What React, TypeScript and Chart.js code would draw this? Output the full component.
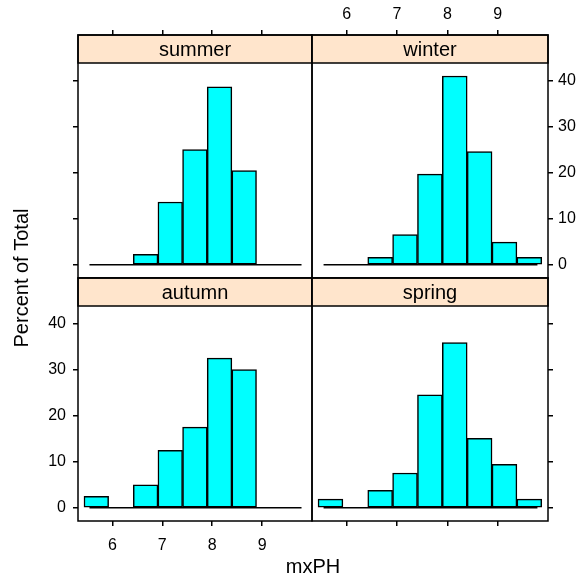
import React, { useEffect, useRef } from "react";
import { Chart, registerables } from "chart.js";

Chart.register(...registerables);

// ---------- data ----------
const breaks = [5.43, 5.924, 6.418, 6.912, 7.406, 7.9, 8.394, 8.888, 9.382, 9.876];
const summerPct = [0, 0, 2.27, 13.64, 25.0, 38.64, 20.45, 0, 0];
const winterPct = [0, 0, 1.64, 6.56, 19.67, 40.98, 24.59, 4.92, 1.64];
const autumnPct = [2.5, 0, 5.0, 12.5, 17.5, 32.5, 30.0, 0, 0];
const springPct = [1.89, 0, 3.77, 7.55, 24.53, 35.85, 15.09, 9.43, 1.89];
const xTicks = [6, 7, 8, 9];
const yTicks = [0, 10, 20, 30, 40];
const xLimits = [5.31, 10.0];
const yLimits = [-2.86, 43.8];
const baselineX = [5.54, 9.79];
const xLabel = "mxPH";
const yLabel = "Percent of Total";

// ---------- layout ----------
const W = 577;
const H = 578;
const X0 = 78;
const XM = 312;
const X1 = 548;
const Y0 = 35;
const STRIP = 28;
const PLOT = 215;
const FONT = "'Liberation Sans', Arial, Helvetica, sans-serif";
const LW = 1.5;

type Panel = { name: string; values: number[]; col: number; row: number };
const panels: Panel[] = [
  { name: "summer", values: summerPct, col: 0, row: 0 },
  { name: "winter", values: winterPct, col: 1, row: 0 },
  { name: "autumn", values: autumnPct, col: 0, row: 1 },
  { name: "spring", values: springPct, col: 1, row: 1 },
];

const decorPlugin = {
  id: "decor",
  afterDatasetsDraw(chart: any, _args: any, opts: any) {
    const { ctx, chartArea: a } = chart;
    const yScale = chart.scales.y;
    const stripBottom = yScale.getPixelForValue(yLimits[1]);
    ctx.save();
    ctx.fillStyle = "#FFE5CC";
    ctx.fillRect(a.left, a.top, a.right - a.left, stripBottom - a.top);
    ctx.strokeStyle = "#000";
    ctx.lineWidth = LW;
    ctx.strokeRect(a.left, a.top, a.right - a.left, stripBottom - a.top);
    ctx.strokeRect(a.left, a.top, a.right - a.left, a.bottom - a.top);
    ctx.fillStyle = "#000";
    ctx.font = `20px ${FONT}`;
    ctx.textAlign = "center";
    ctx.textBaseline = "middle";
    ctx.fillText(opts.label, (a.left + a.right) / 2, (a.top + stripBottom) / 2 + 1);
    if (opts.titles) {
      ctx.fillText(xLabel, (X0 + X1) / 2, 567);
      ctx.save();
      ctx.translate(22, Y0 + (2 * (STRIP + PLOT)) / 2);
      ctx.rotate(-Math.PI / 2);
      ctx.fillText(yLabel, 0, 0);
      ctx.restore();
    }
    ctx.restore();
  },
};

function makeConfig(p: Panel): any {
  const left = p.col ? XM : X0;
  const right = p.col ? X1 : XM;
  const top = Y0 + p.row * (STRIP + PLOT);
  const bottom = top + STRIP + PLOT;
  const showLabels = (p.row === 0 && p.col === 1) || (p.row === 1 && p.col === 0);
  const xPos = p.row === 0 ? "top" : "bottom";
  const yPos = p.col === 0 ? "left" : "right";
  const yMaxExt = yLimits[1] + ((yLimits[1] - yLimits[0]) * STRIP) / PLOT;

  const barData = p.values.map((v, i) => ({ x: (breaks[i] + breaks[i + 1]) / 2, y: v }));

  const padding = {
    left: p.col === 0 ? 0 : left,
    right: p.col === 0 ? W - right : 0,
    top: p.row === 0 ? 0 : top,
    bottom: p.row === 0 ? H - bottom : 0,
  };

  const tickFont = { family: FONT, size: 16 };

  return {
    type: "bar",
    data: {
      datasets: [
        {
          type: "bar",
          data: barData,
          backgroundColor: "#00FFFF",
          borderColor: "#000",
          borderWidth: LW,
          borderSkipped: false,
          barPercentage: 1,
          categoryPercentage: 1,
          order: 0,
        },
        {
          type: "line",
          data: baselineX.map((x) => ({ x, y: 0 })),
          borderColor: "#000",
          borderWidth: LW,
          pointRadius: 0,
          fill: false,
          order: 1,
        },
      ],
    },
    options: {
      responsive: false,
      animation: false,
      devicePixelRatio: 1,
      events: [],
      layout: { padding },
      plugins: {
        legend: { display: false },
        tooltip: { enabled: false },
        decor: { label: p.name, titles: p.row === 1 && p.col === 0 },
      },
      scales: {
        x: {
          type: "linear",
          position: xPos,
          min: xLimits[0],
          max: xLimits[1],
          offset: false,
          afterBuildTicks: (axis: any) => {
            axis.ticks = xTicks.map((v) => ({ value: v }));
          },
          afterFit: (axis: any) => {
            axis.height = p.row === 0 ? top : H - bottom;
          },
          grid: {
            offset: false,
            drawOnChartArea: false,
            drawTicks: true,
            tickLength: 5,
            color: "#000",
            lineWidth: LW,
          },
          border: { display: false },
          ticks: {
            display: showLabels,
            color: "#000",
            font: tickFont,
            padding: p.row === 0 ? 6 : 10,
            maxRotation: 0,
            autoSkip: false,
          },
        },
        y: {
          type: "linear",
          position: yPos,
          min: yLimits[0],
          max: yMaxExt,
          afterBuildTicks: (axis: any) => {
            axis.ticks = yTicks.map((v) => ({ value: v }));
          },
          afterFit: (axis: any) => {
            axis.width = p.col === 0 ? left : W - right;
          },
          grid: {
            drawOnChartArea: false,
            drawTicks: true,
            tickLength: 5,
            color: "#000",
            lineWidth: LW,
          },
          border: { display: false },
          ticks: {
            display: showLabels,
            color: "#000",
            font: tickFont,
            padding: p.col === 0 ? 7 : 5,
            autoSkip: false,
          },
        },
      },
    },
    plugins: [decorPlugin],
  };
}

function PanelChart({ panel }: { panel: Panel }) {
  const ref = useRef<HTMLCanvasElement | null>(null);
  useEffect(() => {
    if (!ref.current) return;
    const chart = new Chart(ref.current, makeConfig(panel));
    return () => chart.destroy();
  }, [panel]);
  return (
    <canvas
      ref={ref}
      width={W}
      height={H}
      style={{ position: "absolute", left: 0, top: 0, width: W, height: H }}
    />
  );
}

export default function App() {
  return (
    <div style={{ position: "absolute", left: 0, top: 0, width: W, height: H, background: "#fff" }}>
      {panels.map((p) => (
        <PanelChart key={p.name} panel={p} />
      ))}
    </div>
  );
}
